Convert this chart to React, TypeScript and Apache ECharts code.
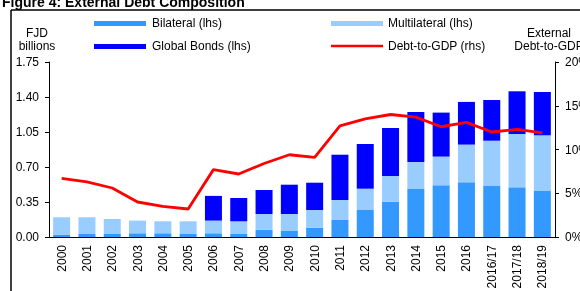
import React, { useEffect, useRef } from "react";
import * as echarts from "echarts";

const categories = [
  "2000", "2001", "2002", "2003", "2004", "2005", "2006", "2007", "2008", "2009",
  "2010", "2011", "2012", "2013", "2014", "2015", "2016", "2016/17", "2017/18", "2018/19",
];

const bilateral = [0.02, 0.03, 0.03, 0.037, 0.037, 0.03, 0.037, 0.03, 0.073, 0.06, 0.093, 0.17, 0.27, 0.353, 0.48, 0.517, 0.547, 0.51, 0.497, 0.46];
const multilateral = [0.177, 0.167, 0.15, 0.127, 0.12, 0.127, 0.127, 0.127, 0.157, 0.17, 0.177, 0.2, 0.213, 0.257, 0.27, 0.287, 0.377, 0.453, 0.533, 0.557];
const globalBonds = [0, 0, 0, 0, 0, 0, 0.247, 0.233, 0.24, 0.293, 0.273, 0.453, 0.447, 0.48, 0.5, 0.44, 0.427, 0.407, 0.427, 0.433];
const debtToGdp = [6.7, 6.3, 5.6, 4.0, 3.5, 3.2, 7.7, 7.2, 8.4, 9.4, 9.1, 12.7, 13.5, 14.0, 13.7, 12.6, 13.1, 12.0, 12.3, 11.9];

const leftTicks = { min: 0, max: 1.75, interval: 0.35 };
const rightTicks = { min: 0, max: 20, interval: 5 };

const FONT = "Liberation Sans, Arial, sans-serif";

export default function App() {
  const ref = useRef<HTMLDivElement>(null);
  useEffect(() => {
    if (!ref.current) return;
    const chart = echarts.init(ref.current, undefined, { renderer: "svg" });
    const txt = { fontFamily: FONT, fontSize: 12, fill: "#000" };
    chart.setOption({
      animation: false,
      textStyle: { fontFamily: FONT },
      grid: { left: 49, right: 25, top: 62, bottom: 54, containLabel: false, outerBoundsMode: "none" },
      xAxis: {
        type: "category",
        data: categories,
        axisLine: { lineStyle: { color: "#000", width: 1 } },
        axisTick: { show: false },
        axisLabel: { rotate: 90, fontSize: 12, color: "#000", margin: 8, fontFamily: FONT, interval: 0 },
      },
      yAxis: [
        {
          type: "value",
          ...leftTicks,
          axisLine: { show: true, lineStyle: { color: "#000" } },
          axisTick: { show: true, length: 4, lineStyle: { color: "#000" } },
          splitLine: { show: false },
          axisLabel: { fontSize: 12, color: "#000", margin: 10, fontFamily: FONT, formatter: (v: number) => v.toFixed(2) },
        },
        {
          type: "value",
          ...rightTicks,
          position: "right",
          axisLine: { show: true, lineStyle: { color: "#000" } },
          axisTick: { show: true, length: 4, lineStyle: { color: "#000" } },
          splitLine: { show: false },
          axisLabel: { fontSize: 12, color: "#000", margin: 10, fontFamily: FONT, formatter: "{value}%" },
        },
      ],
      series: [
        { name: "Bilateral (lhs)", type: "bar", stack: "d", data: bilateral, barWidth: 17, itemStyle: { color: "#3399FF" } },
        { name: "Multilateral (lhs)", type: "bar", stack: "d", data: multilateral, barWidth: 17, itemStyle: { color: "#99CCFF" } },
        { name: "Global Bonds (lhs)", type: "bar", stack: "d", data: globalBonds, barWidth: 17, itemStyle: { color: "#0000FF" } },
        {
          name: "Debt-to-GDP (rhs)", type: "line", yAxisIndex: 1, data: debtToGdp,
          showSymbol: false, symbol: "none", lineStyle: { color: "#FF0000", width: 2.8 }, itemStyle: { color: "#FF0000" },
        },
      ],
      graphic: [
        { type: "text", left: 2, top: -5, style: { text: "Figure 4: External Debt Composition", fontFamily: FONT, fontSize: 14, fontWeight: "bold", fill: "#000" } },
        { type: "line", shape: { x1: 11, y1: 10, x2: 580, y2: 10 }, style: { stroke: "#000", lineWidth: 1.5 } },
        { type: "line", shape: { x1: 11, y1: 10, x2: 11, y2: 291 }, style: { stroke: "#000", lineWidth: 1.5 } },
        { type: "text", x: 37, y: 33, style: { ...txt, text: "FJD", textAlign: "center", textVerticalAlign: "middle" } },
        { type: "text", x: 37, y: 46, style: { ...txt, text: "billions", textAlign: "center", textVerticalAlign: "middle" } },
        { type: "text", x: 549, y: 33, style: { ...txt, text: "External", textAlign: "center", textVerticalAlign: "middle" } },
        { type: "text", x: 549, y: 46, style: { ...txt, text: "Debt-to-GDP", textAlign: "center", textVerticalAlign: "middle" } },
        { type: "rect", shape: { x: 94, y: 21, width: 52, height: 5 }, style: { fill: "#3399FF" } },
        { type: "text", x: 152, y: 23, style: { ...txt, text: "Bilateral (lhs)", textVerticalAlign: "middle" } },
        { type: "rect", shape: { x: 94, y: 44, width: 52, height: 5 }, style: { fill: "#0000FF" } },
        { type: "text", x: 152, y: 46, style: { ...txt, text: "Global Bonds (lhs)", textVerticalAlign: "middle" } },
        { type: "rect", shape: { x: 331, y: 21, width: 52, height: 5 }, style: { fill: "#99CCFF" } },
        { type: "text", x: 388, y: 23, style: { ...txt, text: "Multilateral (lhs)", textVerticalAlign: "middle" } },
        { type: "line", shape: { x1: 331, y1: 46, x2: 383, y2: 46 }, style: { stroke: "#FF0000", lineWidth: 2.5 } },
        { type: "text", x: 388, y: 46, style: { ...txt, text: "Debt-to-GDP (rhs)", textVerticalAlign: "middle" } },
      ],
    });
    return () => chart.dispose();
  }, []);
  return <div ref={ref} style={{ position: "fixed", left: 0, top: 0, width: 580, height: 291 }} />;
}
